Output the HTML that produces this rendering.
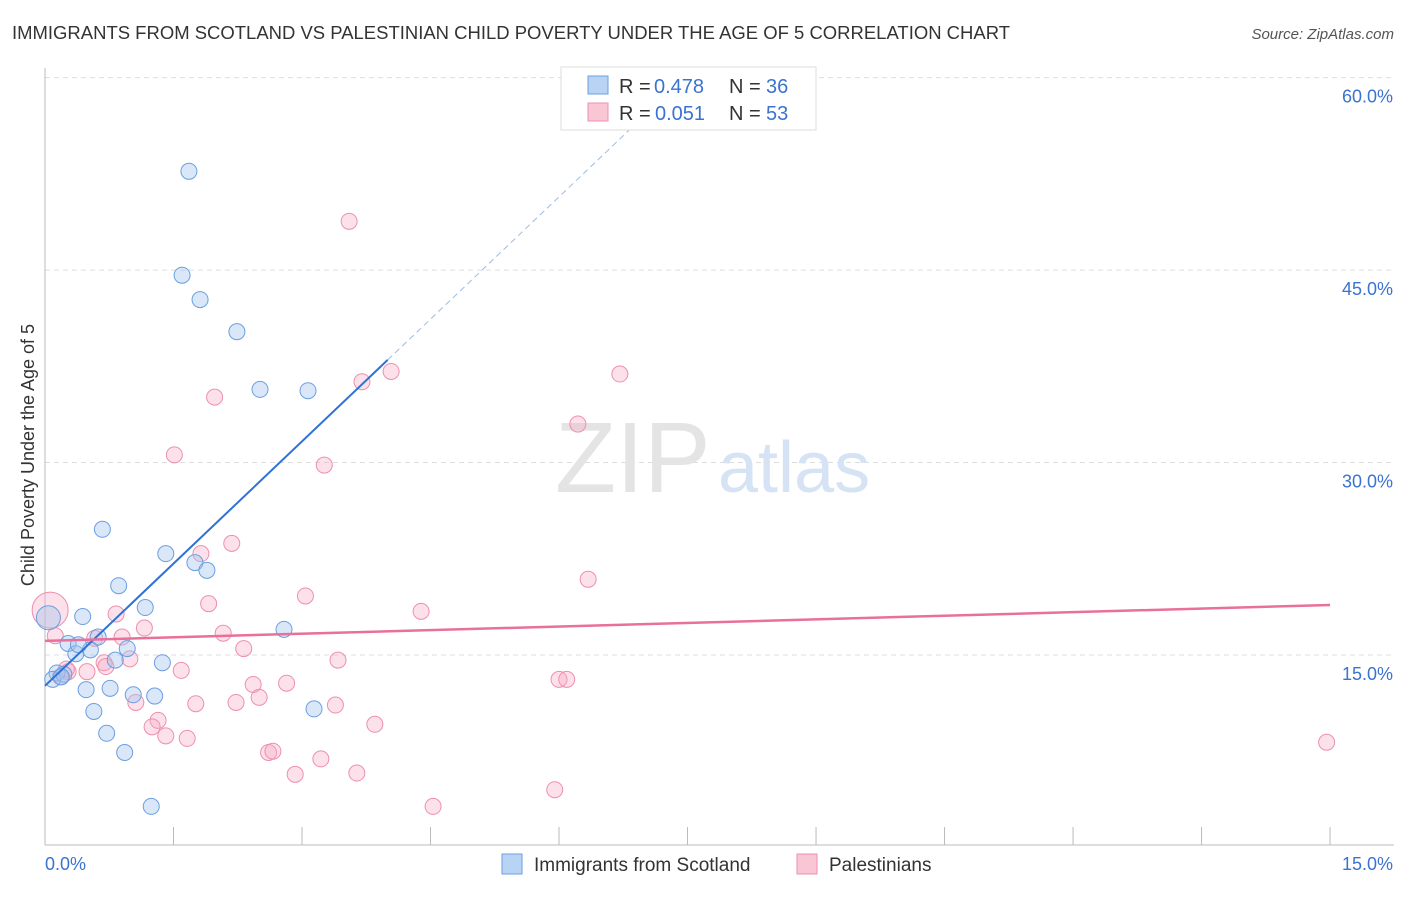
<!DOCTYPE html>
<html><head><meta charset="utf-8"><style>
body{margin:0;background:#fff;font-family:"Liberation Sans",sans-serif}
svg text{font-family:"Liberation Sans",sans-serif}
</style></head><body>
<svg id="chart" width="1406" height="892" xmlns="http://www.w3.org/2000/svg">
<text x="12" y="39" font-size="18" fill="#333" textLength="998" lengthAdjust="spacingAndGlyphs">IMMIGRANTS FROM SCOTLAND VS PALESTINIAN CHILD POVERTY UNDER THE AGE OF 5 CORRELATION CHART</text>
<text x="1394" y="39" font-size="15" fill="#555" text-anchor="end" font-style="italic">Source: ZipAtlas.com</text>
<text transform="translate(34,455) rotate(-90)" font-size="18" fill="#333" text-anchor="middle">Child Poverty Under the Age of 5</text>
<g id="grid"></g><g id="axes"></g>
<text x="555" y="492" font-size="100" fill="#e4e4e4" font-family="Liberation Serif">ZIP</text>
<text x="718" y="492" font-size="72" fill="#d6e3f5">atlas</text>
<g id="marks"></g>
<g>
<rect x="561" y="67" width="255" height="63" fill="#fff" stroke="#ddd"/>
<rect x="588" y="76" width="20" height="18" fill="#b9d3f5" stroke="#6b9fe0"/>
<rect x="588" y="103" width="20" height="18" fill="#f9c6d6" stroke="#ee8fae"/>
<text x="619" y="93" font-size="20" fill="#333">R =</text>
<text x="654" y="93" font-size="20" fill="#3a73d0">0.478</text>
<text x="729" y="93" font-size="20" fill="#333">N =</text>
<text x="766" y="93" font-size="20" fill="#3a73d0">36</text>
<text x="619" y="120" font-size="20" fill="#333">R =</text>
<text x="655" y="120" font-size="20" fill="#3a73d0">0.051</text>
<text x="729" y="120" font-size="20" fill="#333">N =</text>
<text x="766" y="120" font-size="20" fill="#3a73d0">53</text>
</g>
<g>
<rect x="502" y="854" width="20" height="20" fill="#b9d3f5" stroke="#6b9fe0"/>
<text x="534" y="871" font-size="19" fill="#333">Immigrants from Scotland</text>
<rect x="797" y="854" width="20" height="20" fill="#f9c6d6" stroke="#ee8fae"/>
<text x="829" y="871" font-size="19" fill="#333">Palestinians</text>
</g>
</svg>
<script>
const xTicks=[0,1.5,3,4.5,6,7.5,9,10.5,12,13.5,15];
const yTicks=[15,30,45,60];
const yTickLabels=["15.0%","30.0%","45.0%","60.0%"];
const blueX=[1.68,1.6,1.81,2.24,2.51,3.07,0.67,1.41,1.75,1.89,0.86,1.17,0.44,2.79,0.62,0.27,0.36,0.53,0.96,0.82,1.37,0.14,0.09,0.22,0.19,0.76,0.48,1.03,1.28,3.14,0.57,0.72,0.93,1.24,0.04,0.39];
const blueY=[52.7,44.6,42.7,40.2,35.7,35.6,24.8,22.9,22.2,21.6,20.4,18.7,18,17,16.4,15.9,15.1,15.4,15.5,14.6,14.4,13.6,13.1,13.5,13.3,12.4,12.3,11.9,11.8,10.8,10.6,8.9,7.4,3.2,17.9,15.8];
const pinkX=[3.55,3.7,4.04,6.71,1.98,6.22,1.51,3.26,2.18,1.82,6.34,3.04,1.91,4.39,0.83,1.16,2.08,0.9,0.58,2.32,3.42,0.99,0.69,0.71,1.59,0.49,0.27,0.18,6.0,6.09,2.82,2.43,1.76,1.06,2.23,2.5,3.39,1.32,1.25,1.41,1.66,3.85,2.61,2.66,3.22,2.92,3.64,5.95,4.53,14.96,0.06,0.12,0.25];
const pinkY=[48.8,36.3,37.1,36.9,35.1,33,30.6,29.8,23.7,22.9,20.9,19.6,19,18.4,18.2,17.1,16.7,16.4,16.3,15.5,14.6,14.7,14.4,14.1,13.8,13.7,13.7,13.3,13.1,13.1,12.8,12.7,11.2,11.3,11.3,11.7,11.1,9.9,9.4,8.7,8.5,9.6,7.4,7.5,6.9,5.7,5.8,4.5,3.2,8.2,18.5,16.5,13.9];
const blueTrend=[[0,12.6],[4,38]];
const blueDash=[[4,38],[6.88,56.3]];
const pinkTrend=[[0,16.1],[15,18.9]];
const X=v=>45+v*85.67, Y=v=>655-(v-15)*12.83;
const NS="http://www.w3.org/2000/svg";
function el(t,a,p){const e=document.createElementNS(NS,t);for(const k in a)e.setAttribute(k,a[k]);document.getElementById(p).appendChild(e);return e;}
yTicks.forEach((t,i)=>{
 const g=el('line',{x1:45,x2:1394,y1:Y(t),y2:Y(t),stroke:'#ddd','stroke-dasharray':'5,4'},'grid');
 
 
 const l=el('text',{x:1393,y:Y(t)+25,'font-size':18,fill:'#3a73d0','text-anchor':'end'},'axes');l.textContent=yTickLabels[i];
 
 
});
const ax=el('line',{x1:45,x2:1394,y1:845,y2:845,stroke:'#bbb'},'axes');


const ay=el('line',{x1:45,x2:45,y1:68,y2:845,stroke:'#bbb'},'axes');


xTicks.forEach(t=>{const l=el('line',{x1:X(t),x2:X(t),y1:827,y2:845,stroke:'#bbb'},'axes');
 
 });
const x0=el('text',{x:45,y:870,'font-size':18,fill:'#3a73d0'},'axes');x0.textContent='0.0%';


const x1=el('text',{x:1393,y:870,'font-size':18,fill:'#3a73d0','text-anchor':'end'},'axes');x1.textContent='15.0%';


pinkX.forEach((x,i)=>{const big=i===50;const c=el('circle',{cx:X(x),cy:Y(pinkY[i]),r:big?18:8,fill:'rgba(246,170,195,0.35)',stroke:'#ee8fae','stroke-width':1},'marks');
 
 });
blueX.forEach((x,i)=>{const big=i===34;const c=el('circle',{cx:X(x),cy:Y(blueY[i]),r:big?12:8,fill:'rgba(160,195,240,0.4)',stroke:'#6b9fe0','stroke-width':1},'marks');
 
 });
const tb=el('line',{x1:X(blueTrend[0][0]),y1:Y(blueTrend[0][1]),x2:X(blueTrend[1][0]),y2:Y(blueTrend[1][1]),stroke:'#2f72d6','stroke-width':2},'marks');


const td=el('line',{x1:X(blueDash[0][0]),y1:Y(blueDash[0][1]),x2:X(blueDash[1][0]),y2:Y(blueDash[1][1]),stroke:'#9bbbe6','stroke-width':1,'stroke-dasharray':'6,4'},'marks');


const tp=el('line',{x1:X(pinkTrend[0][0]),y1:Y(pinkTrend[0][1]),x2:X(pinkTrend[1][0]),y2:Y(pinkTrend[1][1]),stroke:'#e8709a','stroke-width':2.5},'marks');


</script>
</body></html>
